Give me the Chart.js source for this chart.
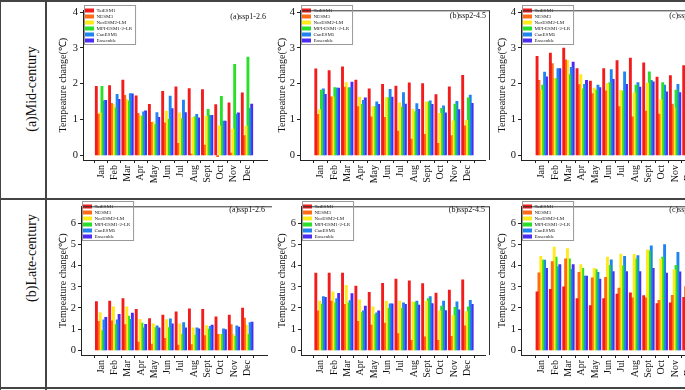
<!DOCTYPE html>
<html>
<head>
<meta charset="utf-8">
<script src="https://cdn.jsdelivr.net/npm/chart.js@4.4.0/dist/chart.umd.min.js"></script>
<style>
  html, body { margin: 0; padding: 0; }
  body { width: 685px; height: 390px; position: relative; overflow: hidden; background: #fff; }
  .rule { position: absolute; background: #444; }
  .row-label {
    position: absolute; font-family: "Liberation Serif", serif; font-size: 14px; color: #111;
    white-space: nowrap; transform: translate(-50%, -50%) rotate(-90deg);
  }
</style>
</head>
<body>
<div class="rule" style="left:0;top:0;width:685px;height:2px"></div>
<div class="rule" style="left:0;top:198px;width:685px;height:2px"></div>
<div class="rule" style="left:0;top:387px;width:685px;height:2px"></div>
<div class="rule" style="left:0;top:0;width:1px;height:390px"></div>
<div class="rule" style="left:45px;top:0;width:2px;height:390px"></div>
<div class="row-label" style="left:32px;top:89px">(a)Mid-century</div>
<div class="row-label" style="left:32px;top:258px">(b)Late-century</div>

<script>
// Categories, series and tick labels
const months = ['Jan', 'Feb', 'Mar', 'Apr', 'May', 'Jun', 'Jul', 'Aug', 'Sept', 'Oct', 'Nov', 'Dec'];
const models = ['TaiESM1', 'NESM3', 'NorESM2-LM', 'MPI-ESM1-2-LR', 'CanESM5', 'Ensemble'];
const midTicks = [0, 1, 2, 3, 4];
const lateTicks = [0, 1, 2, 3, 4, 5, 6];

// one row per model, in the order of `models`
const midSsp126 = [
    [1.92, 1.94, 2.10, 1.66, 1.42, 1.78, 1.91, 1.86, 1.83, 1.41, 1.46, 1.74],
    [1.15, 1.45, 1.67, 1.17, 0.92, 0.90, 0.33, 0.03, 0.28, -0.03, 0.06, 0.55],
    [1.18, 1.42, 1.55, 1.10, 0.93, 1.23, 1.18, 1.05, 1.09, 0.82, 0.73, 0.81],
    [1.92, 1.32, 1.52, 1.09, 0.86, 1.00, 1.02, 1.07, 1.28, 1.64, 2.54, 2.74],
    [1.52, 1.70, 1.72, 1.21, 1.19, 1.65, 1.54, 1.14, 1.11, 0.95, 1.15, 1.31],
    [1.53, 1.56, 1.71, 1.24, 1.06, 1.30, 1.19, 1.04, 1.11, 0.95, 1.18, 1.43]
];
const midSsp245 = [
    [2.41, 2.36, 2.47, 2.10, 1.85, 1.98, 1.93, 2.02, 2.00, 1.69, 1.91, 2.23],
    [1.14, 1.63, 1.90, 1.36, 1.07, 1.06, 0.67, 0.45, 0.58, 0.33, 0.55, 0.82],
    [1.27, 1.63, 2.03, 1.62, 1.36, 1.61, 1.46, 1.29, 1.49, 1.17, 0.96, 0.97],
    [1.82, 1.89, 1.88, 1.42, 1.36, 1.61, 1.34, 1.22, 1.48, 1.31, 1.43, 1.60],
    [1.85, 1.87, 1.89, 1.53, 1.49, 1.84, 1.75, 1.44, 1.52, 1.38, 1.50, 1.68],
    [1.70, 1.87, 2.04, 1.60, 1.42, 1.62, 1.43, 1.28, 1.42, 1.18, 1.27, 1.45]
];
const midSsp585 = [
    [2.76, 2.85, 2.99, 2.42, 2.07, 2.42, 2.64, 2.71, 2.58, 2.18, 2.22, 2.50],
    [2.09, 2.56, 2.66, 1.97, 1.72, 1.80, 1.36, 1.07, 1.23, 1.15, 1.43, 1.60],
    [1.82, 2.14, 2.65, 2.25, 1.87, 2.00, 1.81, 1.74, 2.01, 1.55, 1.32, 1.60],
    [1.96, 2.14, 2.25, 1.85, 1.82, 2.02, 1.79, 1.96, 2.33, 2.03, 1.82, 2.10],
    [2.32, 2.42, 2.45, 1.98, 1.96, 2.39, 2.33, 2.03, 2.09, 1.96, 1.98, 2.10],
    [2.19, 2.42, 2.60, 2.09, 1.89, 2.12, 1.98, 1.90, 2.05, 1.77, 1.75, 1.90]
];
const lateSsp126 = [
    [2.29, 2.32, 2.43, 1.93, 1.49, 1.66, 1.81, 1.95, 1.93, 1.57, 1.66, 1.99],
    [1.36, 1.39, 1.21, 0.38, 0.29, 0.56, 0.24, 0.26, 0.69, 0.75, 1.21, 1.52],
    [1.78, 2.05, 2.05, 1.46, 1.24, 1.45, 1.24, 1.06, 1.16, 0.75, 0.75, 1.18],
    [0.92, 1.21, 1.61, 1.28, 1.07, 1.07, 0.75, 0.71, 1.00, 0.75, 0.65, 0.75],
    [1.43, 1.43, 1.46, 1.06, 1.15, 1.48, 1.30, 1.06, 1.13, 1.01, 1.15, 1.30],
    [1.55, 1.69, 1.75, 1.22, 1.06, 1.24, 1.06, 1.01, 1.18, 0.97, 1.09, 1.33]
];
const lateSsp245 = [
    [3.64, 3.64, 3.64, 3.03, 2.73, 3.15, 3.36, 3.27, 3.14, 2.70, 2.84, 3.32],
    [1.86, 2.32, 2.16, 1.36, 1.19, 1.28, 0.78, 0.47, 0.63, 0.47, 0.65, 1.15],
    [2.32, 2.75, 3.06, 2.38, 2.05, 2.32, 2.32, 2.28, 2.32, 1.86, 1.63, 1.82],
    [2.17, 2.23, 2.23, 1.78, 1.69, 1.98, 1.98, 2.26, 2.43, 2.08, 2.02, 2.05],
    [2.53, 2.44, 2.34, 1.86, 1.76, 2.19, 2.23, 2.32, 2.53, 2.32, 2.28, 2.35],
    [2.50, 2.68, 2.67, 2.08, 1.86, 2.19, 2.16, 2.13, 2.20, 1.87, 1.90, 2.16]
];
const lateSsp585 = [
    [2.76, 2.87, 2.99, 2.43, 2.11, 2.43, 2.65, 2.71, 2.58, 2.20, 2.23, 2.50],
    [3.65, 4.18, 4.31, 3.68, 3.42, 3.44, 2.93, 2.47, 2.47, 2.35, 2.59, 3.00],
    [4.43, 4.87, 4.80, 4.04, 3.86, 4.39, 4.54, 4.52, 4.74, 4.30, 3.79, 4.30],
    [4.25, 4.39, 4.31, 3.86, 3.80, 4.01, 3.98, 4.31, 4.69, 4.39, 4.01, 4.30],
    [4.25, 3.94, 3.82, 3.50, 3.68, 4.27, 4.43, 4.46, 4.92, 4.98, 4.62, 4.60],
    [3.86, 4.04, 4.04, 3.50, 3.36, 3.71, 3.71, 3.71, 3.86, 3.64, 3.70, 3.90]
];

const colors = ['#f21c1c', '#ff6a14', '#ffea1c', '#28e028', '#1f84f0', '#4a2cf2'];
const SERIF = '"Liberation Serif", "Times New Roman", serif';

// frame lines, legend border and panel tag
const panelDeco = {
    id: 'panelDeco',
    afterDraw(chart, args, opts) {
        const {ctx, chartArea: ca} = chart;
        ctx.save();
        ctx.strokeStyle = '#333';
        ctx.lineWidth = 1;
        ctx.beginPath();
        if (opts.frameTop) {
            ctx.moveTo(ca.left, ca.top + 0.5);
            ctx.lineTo(opts.frameRight, ca.top + 0.5);
        }
        ctx.moveTo(opts.frameRight + 0.5, ca.top);
        ctx.lineTo(opts.frameRight + 0.5, ca.bottom);
        ctx.stroke();

        const hb = chart.legend && chart.legend.legendHitBoxes;
        if (hb && hb.length) {
            const last = hb[hb.length - 1];
            const right = Math.max(...hb.map(h => h.left + h.width));
            ctx.strokeStyle = '#999';
            ctx.strokeRect(ca.left + 1.5, hb[0].top - 2.5, right - ca.left + 2, last.top + last.height - hb[0].top + 4);
        }

        ctx.fillStyle = '#111';
        ctx.font = '8px ' + SERIF;
        ctx.textAlign = 'right';
        ctx.textBaseline = 'middle';
        ctx.fillText(opts.tag, opts.tagX, opts.tagY);
        ctx.restore();
    }
};

function makePanel(p) {
    const canvas = document.createElement('canvas');
    canvas.width = p.w;
    canvas.height = p.h;
    canvas.style.cssText = `position:absolute;left:${p.left}px;top:${p.top}px;width:${p.w}px;height:${p.h}px;`;
    document.body.appendChild(canvas);

    const datasets = models.map((name, k) => ({
        label: name,
        data: p.values[k].map((v, i) => ({x: i, y: v})),
        backgroundColor: colors[k],
        borderWidth: 0,
        inflateAmount: 0.5,
        categoryPercentage: 0.85,
        barPercentage: 1.0
    }));

    new Chart(canvas.getContext('2d'), {
        type: 'bar',
        data: {datasets},
        plugins: [panelDeco],
        options: {
            responsive: false,
            animation: false,
            devicePixelRatio: 1,
            layout: {padding: {top: p.padTop, right: 5, left: 0, bottom: 0}},
            scales: {
                x: {
                    type: 'linear',
                    min: p.xMin,
                    max: p.xMax,
                    afterBuildTicks: s => { s.ticks = months.map((m, i) => ({value: i})); },
                    afterFit: s => { s.height = p.xAxisH; },
                    ticks: {
                        callback: v => months[v],
                        minRotation: 90,
                        maxRotation: 90,
                        autoSkip: false,
                        padding: 2,
                        color: '#111',
                        font: {family: SERIF, size: 10}
                    },
                    grid: {drawOnChartArea: false, tickLength: 3, color: '#222'},
                    border: {color: '#222', width: 1}
                },
                y: {
                    min: p.yMin,
                    max: p.yMax,
                    afterBuildTicks: s => { s.ticks = p.yTicks.map(v => ({value: v})); },
                    afterFit: s => { s.width = p.yAxisW; },
                    ticks: {color: '#111', padding: 2, font: {family: SERIF, size: 10.5}},
                    grid: {drawOnChartArea: false, tickLength: 3, color: '#222'},
                    border: {color: '#222', width: 1},
                    title: {
                        display: true,
                        text: 'Tempeature change(℃)',
                        color: '#111',
                        padding: {top: 4, bottom: 0},
                        font: {family: SERIF, size: 10}
                    }
                }
            },
            plugins: {
                tooltip: {enabled: false},
                legend: {
                    position: 'chartArea',
                    align: 'start',
                    title: {display: true, text: '', padding: 0, font: {size: 5, lineHeight: 1}},
                    labels: {
                        boxWidth: 10,
                        boxHeight: 4,
                        padding: 1,
                        color: '#222',
                        font: {family: SERIF, size: 5}
                    }
                },
                panelDeco: {
                    tag: p.tag,
                    tagX: p.tagRight - p.left,
                    tagY: p.tagY - p.top,
                    frameRight: p.frameRight - p.left,
                    frameTop: p.frameTop
                }
            }
        }
    });
}

// Mid-century row
makePanel({left: 53, top: 2, w: 219, h: 196, padTop: 3, xAxisH: 38, yAxisW: 30,
    xMin: -0.78, xMax: 11.93, yMin: -0.13, yMax: 4.05, yTicks: midTicks,
    values: midSsp126, tag: '(a)ssp1-2.6', tagRight: 266, tagY: 17, frameRight: 280, frameTop: false});
makePanel({left: 272, top: 2, w: 218, h: 196, padTop: 3, xAxisH: 38, yAxisW: 28,
    xMin: -0.96, xMax: 11.74, yMin: -0.13, yMax: 4.05, yTicks: midTicks,
    values: midSsp245, tag: '(b)ssp2-4.5', tagRight: 486, tagY: 16, frameRight: 489, frameTop: true});
makePanel({left: 492, top: 2, w: 219, h: 196, padTop: 3, xAxisH: 38, yAxisW: 29,
    xMin: -0.98, xMax: 11.74, yMin: -0.13, yMax: 4.05, yTicks: midTicks,
    values: midSsp585, tag: '(c)ssp5-8.5', tagRight: 705, tagY: 16, frameRight: 708, frameTop: true});

// Late-century row
makePanel({left: 53, top: 198, w: 219, h: 188, padTop: 2, xAxisH: 31, yAxisW: 28,
    xMin: -0.93, xMax: 11.9, yMin: -0.22, yMax: 6.8, yTicks: lateTicks,
    values: lateSsp126, tag: '(a)ssp1-2.6', tagRight: 265, tagY: 210, frameRight: 280, frameTop: true});
makePanel({left: 272, top: 198, w: 218, h: 188, padTop: 2, xAxisH: 31, yAxisW: 29,
    xMin: -0.89, xMax: 11.74, yMin: -0.22, yMax: 6.8, yTicks: lateTicks,
    values: lateSsp245, tag: '(b)ssp2-4.5', tagRight: 485, tagY: 210, frameRight: 489, frameTop: true});
makePanel({left: 492, top: 198, w: 219, h: 188, padTop: 2, xAxisH: 31, yAxisW: 29,
    xMin: -0.98, xMax: 11.74, yMin: -0.22, yMax: 6.8, yTicks: lateTicks,
    values: lateSsp585, tag: '(c)ssp5-8.5', tagRight: 705, tagY: 210, frameRight: 708, frameTop: true});
</script>
</body>
</html>
